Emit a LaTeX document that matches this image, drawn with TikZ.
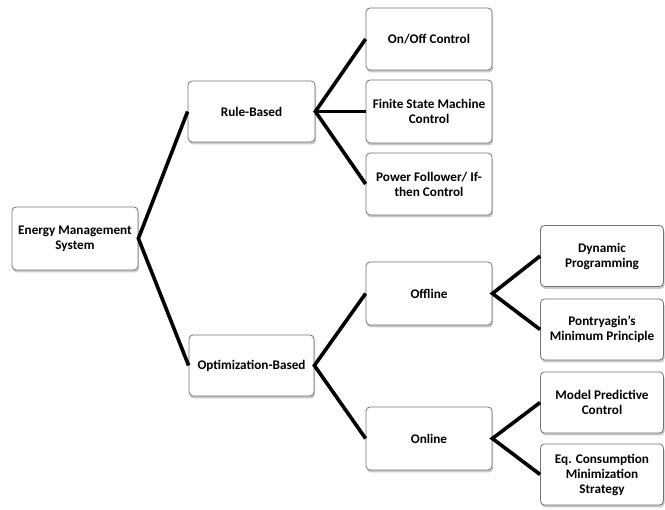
\documentclass[tikz,border=0pt]{standalone}
\usepackage{fontspec}
\setmainfont{Carlito}[Ligatures=Common]
\usetikzlibrary{shadows}
\begin{document}
\begin{tikzpicture}[x=1pt,y=-1pt,
  box/.style={draw=black!55, line width=0.8pt, rounded corners=4pt, fill=white,
    align=center, font=\bfseries\fontsize{13.2}{15}\selectfont, inner sep=2pt,
    drop shadow={shadow xshift=1pt, shadow yshift=-2.5pt, fill=black!35, opacity=0.6}},
  link/.style={line width=3.6pt, line join=miter, black}]
\useasboundingbox (0,0) rectangle (665,510);
\node[box, minimum width=126pt, minimum height=63pt] (ems) at (75,238.5) {Energy Management\\System};
\node[box, minimum width=127pt, minimum height=61pt] (rb) at (251.5,111.5) {Rule-Based};
\node[box, minimum width=125pt, minimum height=61pt] (ob) at (251.5,365.5) {Optimization-Based};
\node[box, minimum width=126pt, minimum height=62pt] (l1) at (429,39) {On/Off Control};
\node[box, minimum width=126pt, minimum height=63pt] (l2) at (429,111.5) {Finite State Machine\\Control};
\node[box, minimum width=126pt, minimum height=62pt] (l3) at (429,184) {Power Follower/ If-\\then Control};
\node[box, minimum width=126pt, minimum height=63pt] (off) at (429,293.5) {Offline};
\node[box, minimum width=126pt, minimum height=63pt] (on) at (429,438.5) {Online};
\node[box, minimum width=123pt, minimum height=61pt] (r1) at (602,256) {Dynamic\\Programming};
\node[box, minimum width=123pt, minimum height=61pt] (r2) at (602,329.5) {Pontryagin's\\Minimum Principle};
\node[box, minimum width=123pt, minimum height=61pt] (r3) at (602,402.5) {Model Predictive\\Control};
\node[box, minimum width=123pt, minimum height=61pt] (r4) at (602,474.5) {Eq. Consumption\\Minimization\\Strategy};
\draw[link] (rb.west) -- (ems.east) -- (ob.west);
\draw[link] (l1.west) -- (rb.east) -- (l3.west);
\draw[link] (rb.east) -- (l2.west);
\draw[link] (off.west) -- (ob.east) -- (on.west);
\draw[link] (r1.west) -- (off.east) -- (r2.west);
\draw[link] (r3.west) -- (on.east) -- (r4.west);
\end{tikzpicture}
\end{document}
